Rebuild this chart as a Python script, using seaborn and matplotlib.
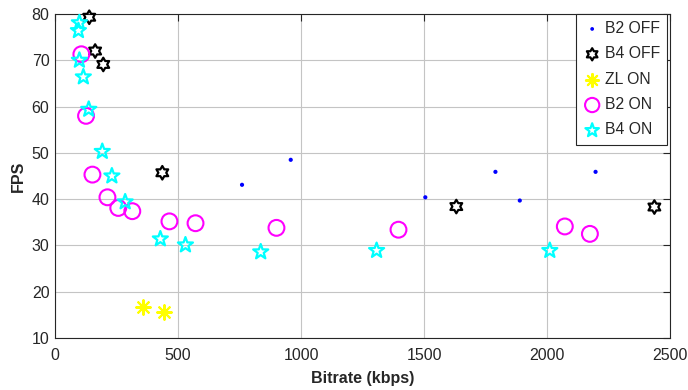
import numpy as np
import pandas as pd
import matplotlib
matplotlib.use("Agg")
import matplotlib.pyplot as plt
from matplotlib.path import Path
import seaborn as sns

# ---- data ----
b2_off_x = [760, 958, 1505, 1790, 1889, 2197]
b2_off_y = [43.1, 48.5, 40.4, 45.9, 39.7, 45.9]
b4_off_x = [139, 163, 196, 436, 1631, 2436]
b4_off_y = [79.3, 72.0, 69.1, 45.7, 38.4, 38.3]
zl_on_x = [356, 443]
zl_on_y = [16.6, 15.7]
b2_on_x = [107, 126, 152, 213, 257, 314, 465, 571, 900, 1396, 2072, 2174]
b2_on_y = [71.3, 58.0, 45.3, 40.4, 38.1, 37.4, 35.2, 34.8, 33.8, 33.4, 34.1, 32.5]
b4_on_x = [99, 95, 99, 115, 137, 192, 231, 285, 428, 530, 836, 1307, 2011]
b4_on_y = [78.1, 76.4, 70.0, 66.4, 59.4, 50.3, 45.0, 39.4, 31.4, 30.1, 28.6, 28.9, 28.9]

series_names = ["B2 OFF", "B4 OFF", "ZL ON", "B2 ON", "B4 ON"]
xticks = [0, 500, 1000, 1500, 2000, 2500]
yticks = [10, 20, 30, 40, 50, 60, 70, 80]

frames = []
for name, xs, ys in zip(series_names,
                        [b2_off_x, b4_off_x, zl_on_x, b2_on_x, b4_on_x],
                        [b2_off_y, b4_off_y, zl_on_y, b2_on_y, b4_on_y]):
    frames.append(pd.DataFrame({"Bitrate": xs, "FPS": ys, "series": name}))
df = pd.concat(frames, ignore_index=True)


def star_path(n, inner):
    ang = np.pi / 2 + np.arange(2 * n) * np.pi / n
    r = np.where(np.arange(2 * n) % 2 == 0, 1.0, inner)
    verts = np.column_stack([r * np.cos(ang), r * np.sin(ang)])
    verts = np.vstack([verts, verts[:1]])
    codes = [Path.MOVETO] + [Path.LINETO] * (2 * n - 1) + [Path.CLOSEPOLY]
    return Path(verts, codes)


pentagram = star_path(5, 0.40)
hexagram = star_path(6, 0.58)

styles = {
    "B2 OFF": dict(marker="o", s=9, color="#0000ff", edgecolor="none", linewidth=0),
    "B4 OFF": dict(marker=hexagram, s=95, facecolor="none", edgecolor="black", linewidth=1.6),
    "ZL ON": dict(marker=(8, 2, 0), s=110, color="#ffff00", linewidth=1.5),
    "B2 ON": dict(marker="o", s=130, facecolor="none", edgecolor="#ff00ff", linewidth=1.5),
    "B4 ON": dict(marker=pentagram, s=130, facecolor="none", edgecolor="#00ffff", linewidth=1.6),
}

sns.set_style("white")
plt.rcParams["font.family"] = ["Liberation Sans", "DejaVu Sans"]

fig = plt.figure(figsize=(6.88, 3.90), dpi=100)
ax = fig.add_axes([0.080, 0.1333, 0.894, 0.8308])

for name in series_names:
    sub = df[df["series"] == name]
    sns.scatterplot(data=sub, x="Bitrate", y="FPS", ax=ax, label=name, zorder=3,
                    clip_on=False, **styles[name])

ax.set_xlim(0, 2500)
ax.set_ylim(10, 80)
ax.set_xticks(xticks)
ax.set_yticks(yticks)
ax.grid(True, color="#c4c4c4", linewidth=0.8)
ax.set_axisbelow(True)
dark = "#262626"
for sp in ax.spines.values():
    sp.set_visible(True)
    sp.set_color(dark)
    sp.set_linewidth(0.8)
ax.tick_params(direction="in", top=True, right=True, length=5, width=0.8,
               colors=dark, labelsize=11.5, labelcolor=dark)
ax.tick_params(axis="x", pad=7)
ax.tick_params(axis="y", pad=4)
ax.set_xlabel("Bitrate (kbps)", fontsize=11.5, fontweight="bold", color=dark, labelpad=6)
ax.set_ylabel("FPS", fontsize=11.5, fontweight="bold", color=dark, labelpad=4)

leg = ax.legend(loc="upper right", bbox_to_anchor=(0.995, 1.0), frameon=True,
                fancybox=False, framealpha=1, edgecolor=dark, fontsize=11.3,
                handletextpad=0.25, handlelength=1.1, labelspacing=0.66,
                borderpad=0.45, borderaxespad=0.0, markerscale=0.9)
leg.get_frame().set_linewidth(0.8)

fig.savefig("out.png", dpi=100)
